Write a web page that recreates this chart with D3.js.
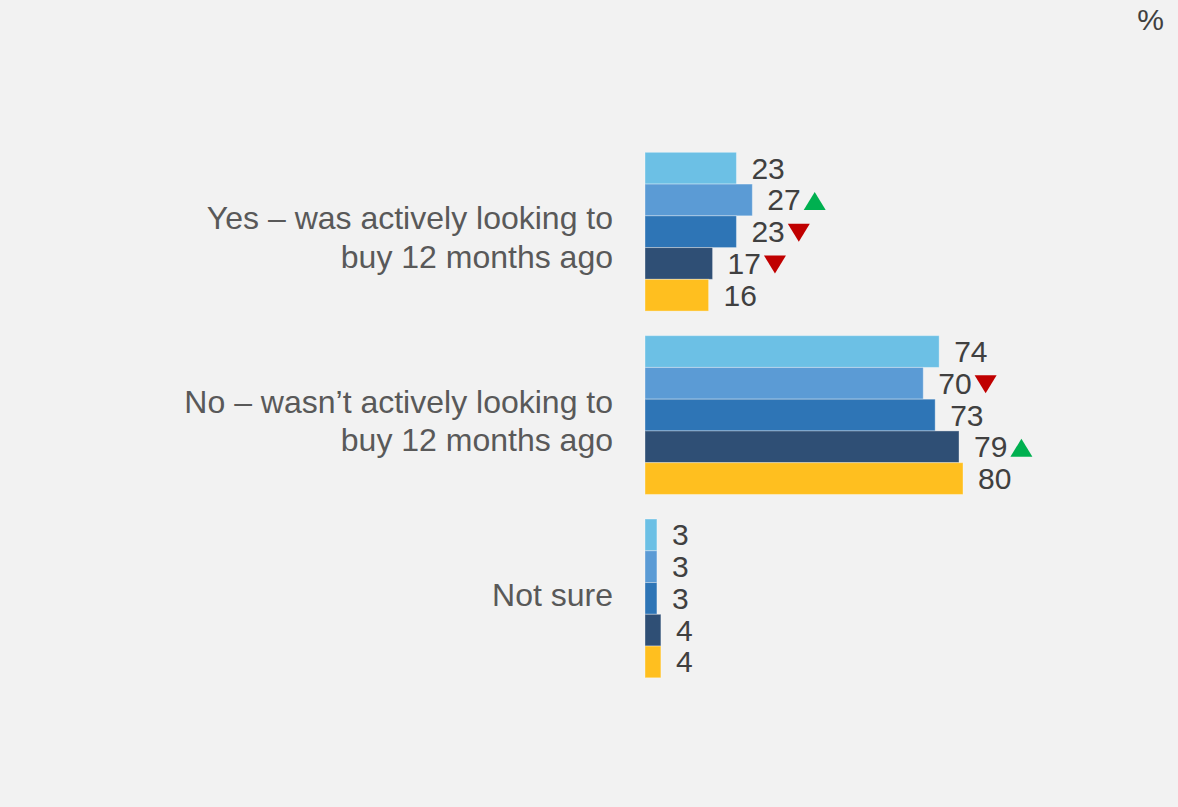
<!DOCTYPE html>
<html>
<head>
<meta charset="utf-8">
<script src="https://cdn.jsdelivr.net/npm/d3@7"></script>
<style>
  html, body { margin: 0; padding: 0; background: #f2f2f2; }
  svg { display: block; font-family: "Liberation Sans", Arial, sans-serif; }
</style>
</head>
<body>
<div id="chart"></div>
<script>
// categories (each label split into lines)
const categories = ['yes', 'no', 'notSure'];
const categoryLines = {
    yes: ['Yes \u2013 was actively looking to', 'buy 12 months ago'],
    no: ['No \u2013 wasn\u2019t actively looking to', 'buy 12 months ago'],
    notSure: ['Not sure']
};

// five survey waves, oldest to newest
const series = ['w1', 'w2', 'w3', 'w4', 'w5'];
const seriesColors = ['#6cc0e5', '#5b9bd5', '#2e75b6', '#2f4f75', '#ffbf1f'];

// values per category, in series order
const yesValues = [23, 27, 23, 17, 16];
const noValues = [74, 70, 73, 79, 80];
const notSureValues = [3, 3, 3, 4, 4];

// significance markers: 1 = up, -1 = down, 0 = none
const yesSig = [0, 1, -1, -1, 0];
const noSig = [0, -1, 0, 1, 0];
const notSureSig = [0, 0, 0, 0, 0];

const valuesByCat = {yes: yesValues, no: noValues, notSure: notSureValues};
const sigByCat = {yes: yesSig, no: noSig, notSure: notSureSig};

const width = 1178, height = 807;

const data = [];
categories.forEach(c => {
    series.forEach((s, i) => {
        data.push({cat: c, series: s, value: valuesByCat[c][i], sig: sigByCat[c][i]});
    });
});

const svg = d3.select('#chart').append('svg')
    .attr('width', width)
    .attr('height', height);

svg.append('rect')
    .attr('width', width)
    .attr('height', height)
    .attr('fill', '#f2f2f2');

// scales
const x = d3.scaleLinear().domain([0, 100]).range([645, 645 + 397.5]);
const y = d3.scaleBand().domain(categories).range([152.3, 677.8]).paddingInner(0.134);
const ySub = d3.scaleBand().domain(series).range([0, y.bandwidth()]).padding(0);
const color = d3.scaleOrdinal().domain(series).range(seriesColors);

const groups = svg.selectAll('.group')
    .data(categories)
    .join('g')
    .attr('class', 'group')
    .attr('transform', d => `translate(0,${y(d)})`);

groups.selectAll('rect')
    .data(c => data.filter(d => d.cat === c))
    .join('rect')
    .attr('x', x(0))
    .attr('y', d => ySub(d.series))
    .attr('width', d => x(d.value) - x(0))
    .attr('height', ySub.bandwidth())
    .attr('fill', d => color(d.series))
    .attr('stroke', 'rgba(255,255,255,0.35)')
    .attr('stroke-width', 1);

// value labels
const labels = groups.selectAll('.val')
    .data(c => data.filter(d => d.cat === c))
    .join('text')
    .attr('class', 'val')
    .attr('x', d => x(d.value) + 15)
    .attr('y', d => ySub(d.series) + ySub.bandwidth() / 2 + 10.5)
    .attr('font-size', 30)
    .attr('fill', '#404040')
    .text(d => d.value);

// up / down triangles
labels.each(function(d) {
    if (!d.sig) return;
    const tw = this.getComputedTextLength();
    const cx = x(d.value) + 15 + tw + 3 + 11;
    const cy = ySub(d.series) + ySub.bandwidth() / 2 + 1;
    const w = 11, h = 9;
    const pts = d.sig > 0
        ? [[cx - w, cy + h], [cx + w, cy + h], [cx, cy - h]]
        : [[cx - w, cy - h], [cx + w, cy - h], [cx, cy + h]];
    d3.select(this.parentNode).append('path')
        .attr('d', d3.line()(pts) + 'Z')
        .attr('fill', d.sig > 0 ? '#00b050' : '#c00000');
});

// category labels
groups.append('text')
    .attr('text-anchor', 'end')
    .attr('font-size', 32)
    .attr('fill', '#595959')
    .each(function(c) {
        const lines = categoryLines[c];
        const mid = y.bandwidth() / 2;
        const lh = 38.5;
        const first = lines.length > 1 ? mid - 2.5 : mid + 8;
        d3.select(this).selectAll('tspan')
            .data(lines)
            .join('tspan')
            .attr('x', 613)
            .attr('y', (l, i) => first + i * lh)
            .text(l => l);
    });

// unit marker
svg.append('text')
    .attr('x', 1164)
    .attr('y', 30)
    .attr('text-anchor', 'end')
    .attr('font-size', 30)
    .attr('fill', '#404040')
    .text('%');
</script>
</body>
</html>
